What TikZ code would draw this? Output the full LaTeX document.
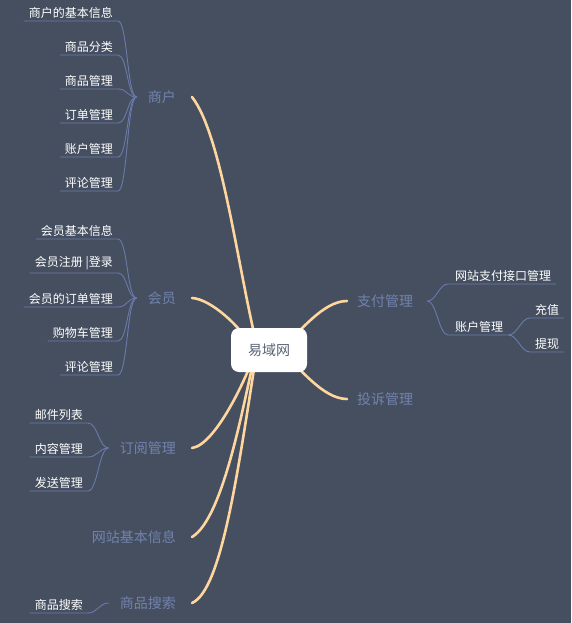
\documentclass[tikz,border=0pt]{standalone}
\usepackage{fontspec}
\setmainfont{Noto Sans CJK SC}
\definecolor{bgc}{RGB}{69,79,96}
\definecolor{branch}{RGB}{255,214,158}
\definecolor{subc}{RGB}{114,130,174}
\definecolor{twigc}{RGB}{106,122,170}
\definecolor{centc}{RGB}{88,98,118}
\pgfdeclarelayer{bglayer}
\pgfdeclarelayer{edgelayer}
\pgfsetlayers{bglayer,edgelayer,main}
\begin{document}
\begin{tikzpicture}[x=1pt,y=-1pt,
  hub/.style={fill=white, rounded corners=8pt, minimum width=76pt, minimum height=44pt, text=centc, font=\fontsize{14}{16}\selectfont, inner sep=0pt},
  topic/.style={text=subc, font=\fontsize{14}{16}\selectfont, inner sep=0pt},
  leafl/.style={text=white, font=\fontsize{12}{14}\selectfont, inner xsep=5pt, inner ysep=2.5pt, anchor=south east},
  leafr/.style={text=white, font=\fontsize{12}{14}\selectfont, inner xsep=5pt, inner ysep=2.5pt, anchor=south west},
  branchline/.style={draw=branch, line width=2.6pt, line cap=round},
  twig/.style={draw=twigc, line width=0.9pt},
]
\begin{pgfonlayer}{bglayer}
\fill[bgc] (0,0) rectangle (571,623);
\end{pgfonlayer}
\useasboundingbox (0,0) rectangle (571,623);

% hub
\node[hub] (m) at (269,350) {易域网};

% topics
\node[topic, anchor=east] (s1) at (176,97) {商户};
\node[topic, anchor=east] (s2) at (176,298) {会员};
\node[topic, anchor=east] (s3) at (176,448) {订阅管理};
\node[topic, anchor=east] (s4) at (176,537) {网站基本信息};
\node[topic, anchor=east] (s5) at (176,603) {商品搜索};
\node[topic, anchor=west] (s6) at (357,301) {支付管理};
\node[topic, anchor=west] (s7) at (357,399) {投诉管理};

\coordinate (c1) at ([xshift=-11pt]s1.west);
\coordinate (c2) at ([xshift=-11pt]s2.west);
\coordinate (c3) at ([xshift=-11pt]s3.west);
\coordinate (c5) at ([xshift=-11pt]s5.west);
\coordinate (c6) at ([xshift=14pt]s6.east);

% branches
\begin{pgfonlayer}{edgelayer}
\draw[branchline] ([xshift=-11pt]m.center) .. controls (238,270) and (222,135) .. ([xshift=16pt]s1.east);
\draw[branchline] ([xshift=-15pt]m.center) .. controls (240,325) and (210,299) .. ([xshift=16pt]s2.east);
\draw[branchline] ([xshift=-13pt]m.center) .. controls (246,380) and (215,445) .. ([xshift=16pt]s3.east);
\draw[branchline] ([xshift=-13pt]m.center) .. controls (244,400) and (224,518) .. ([xshift=16pt]s4.east);
\draw[branchline] ([xshift=-12pt]m.center) .. controls (238,470) and (222,590) .. ([xshift=16pt]s5.east);
\draw[branchline] ([xshift=11pt]m.center) .. controls (300,332) and (323,301) .. ([xshift=-10pt]s6.west);
\draw[branchline] ([xshift=11pt]m.center) .. controls (300,368) and (323,399) .. ([xshift=-10pt]s7.west);
\end{pgfonlayer}

% 商户 leaves
\node[leafl] (a1) at (118,21) {商户的基本信息\hspace{4pt}};
\node[leafl] (a2) at (118,55) {商品分类\hspace{4pt}};
\node[leafl] (a3) at (118,89) {商品管理\hspace{4pt}};
\node[leafl] (a4) at (118,123) {订单管理\hspace{4pt}};
\node[leafl] (a5) at (118,157) {账户管理\hspace{4pt}};
\node[leafl] (a6) at (118,191) {评论管理\hspace{4pt}};
\foreach \n in {a1,a2,a3,a4,a5,a6}
  \draw[twig] (\n.south west) -- (\n.south east) .. controls +(9.5,0) and +(-9.5,0) .. (c1);

% 会员 leaves
\node[leafl] (b1) at (118,239) {会员基本信息\hspace{4pt}};
\node[leafl] (b2) at (118,273) {会员注册 |登录\hspace{4pt}};
\node[leafl] (b3) at (118,307) {会员的订单管理\hspace{4pt}};
\node[leafl] (b4) at (118,341) {购物车管理\hspace{4pt}};
\node[leafl] (b5) at (118,375) {评论管理\hspace{4pt}};
\foreach \n in {b1,b2,b3,b4,b5}
  \draw[twig] (\n.south west) -- (\n.south east) .. controls +(9.5,0) and +(-9.5,0) .. (c2);

% 订阅管理 leaves
\node[leafl] (d1) at (88,423) {邮件列表\hspace{4pt}};
\node[leafl] (d2) at (88,457) {内容管理\hspace{4pt}};
\node[leafl] (d3) at (88,491) {发送管理\hspace{4pt}};
\foreach \n in {d1,d2,d3}
  \draw[twig] (\n.south west) -- (\n.south east) .. controls +(9.5,0) and +(-9.5,0) .. (c3);

% 商品搜索 leaf
\node[leafl] (e1) at (88,613) {商品搜索\hspace{4pt}};
\draw[twig] (e1.south west) -- (e1.south east) .. controls +(9.5,0) and +(-9.5,0) .. (c5);

% 支付管理 leaves
\node[leafr] (r1) at (448,284) {\hspace{2pt}网站支付接口管理\hspace{4pt}};
\node[leafr] (r2) at (448,335) {\hspace{2pt}账户管理\hspace{4pt}};
\node[leafr] (r3) at (530,318) {充值\hspace{6pt}};
\node[leafr] (r4) at (530,352) {提现\hspace{6pt}};
\draw[twig] (c6) .. controls +(9,0) and +(-9,0) .. (r1.south west) -- (r1.south east);
\draw[twig] (c6) .. controls +(9,0) and +(-9,0) .. (r2.south west) -- (r2.south east);
\draw[twig] (r2.south east) .. controls +(9,0) and +(-9,0) .. (r3.south west) -- (r3.south east);
\draw[twig] (r2.south east) .. controls +(9,0) and +(-9,0) .. (r4.south west) -- (r4.south east);
\end{tikzpicture}
\end{document}
